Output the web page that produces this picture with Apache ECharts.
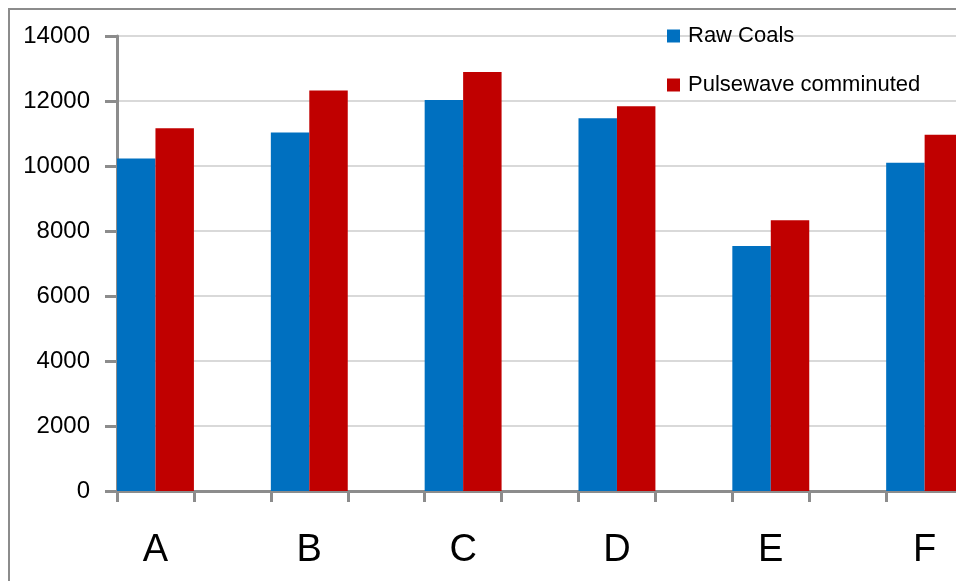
<!DOCTYPE html>
<html>
<head>
<meta charset="utf-8">
<script src="https://cdn.jsdelivr.net/npm/echarts@6/dist/echarts.min.js"></script>
<style>
html,body{margin:0;padding:0;overflow:hidden;background:#fff;width:956px;height:581px;}
#chart{position:absolute;left:0;top:0;width:1100px;height:581px;}
</style>
</head>
<body>
<div id="chart"></div>
<script>
var categories = ['A', 'B', 'C', 'D', 'E', 'F'];
var rawCoals = [10230, 11030, 12030, 11470, 7540, 10100];
var pulsewave = [11160, 12320, 12890, 11840, 8330, 10960];
var seriesNames = ['Raw Coals', 'Pulsewave comminuted'];
var yTicks = [0, 2000, 4000, 6000, 8000, 10000, 12000, 14000];

// Each group is followed by an empty slot on the category axis
var slots = [], rawSlots = [], pulseSlots = [];
categories.forEach(function (c, i) {
  slots.push(c); rawSlots.push(rawCoals[i]); pulseSlots.push(pulsewave[i]);
  slots.push(' '); rawSlots.push('-'); pulseSlots.push('-');
});

var chart = echarts.init(document.getElementById('chart'), null, {renderer: 'canvas'});
chart.setOption({
  animation: false,
  textStyle: {fontFamily: 'Liberation Sans'},
  graphic: [{
    type: 'rect', silent: true, z: -1,
    shape: {x: 9, y: 9, width: 1300, height: 800},
    style: {fill: 'none', stroke: '#8c8c8c', lineWidth: 2}
  }],
  legend: {
    orient: 'vertical', left: 667, top: 25, padding: 0,
    itemWidth: 13, itemHeight: 13, itemGap: 27,
    icon: 'rect',
    textStyle: {fontSize: 22, color: '#000', fontFamily: 'Liberation Sans', padding: [4, 0, 0, 3]},
    data: seriesNames
  },
  grid: {left: 117, top: 36, width: 923, bottom: 90, containLabel: false},
  xAxis: {
    type: 'category', data: slots, boundaryGap: true,
    axisLine: {lineStyle: {color: '#8c8c8c', width: 3}},
    axisTick: {show: true, interval: 0, length: 11, lineStyle: {color: '#8c8c8c', width: 3}},
    axisLabel: {interval: 0, fontSize: 38, color: '#000', margin: 41, fontFamily: 'Liberation Sans'},
    splitLine: {show: false}
  },
  yAxis: {
    type: 'value', min: yTicks[0], max: yTicks[yTicks.length - 1], interval: 2000,
    axisLine: {show: true, lineStyle: {color: '#8c8c8c', width: 3}},
    axisTick: {show: true, length: 12, lineStyle: {color: '#8c8c8c', width: 3}},
    axisLabel: {fontSize: 24, color: '#000', margin: 27, fontFamily: 'Liberation Sans',
      formatter: function (v) { return String(v); }},
    splitLine: {show: true, lineStyle: {color: '#d9d9d9', width: 2}}
  },
  series: [
    {name: seriesNames[0], type: 'bar', data: rawSlots, barGap: '0%', barCategoryGap: '0%',
     itemStyle: {color: '#0070C0'}},
    {name: seriesNames[1], type: 'bar', data: pulseSlots, barGap: '0%', barCategoryGap: '0%',
     itemStyle: {color: '#C00000'}}
  ]
});
</script>
</body>
</html>
